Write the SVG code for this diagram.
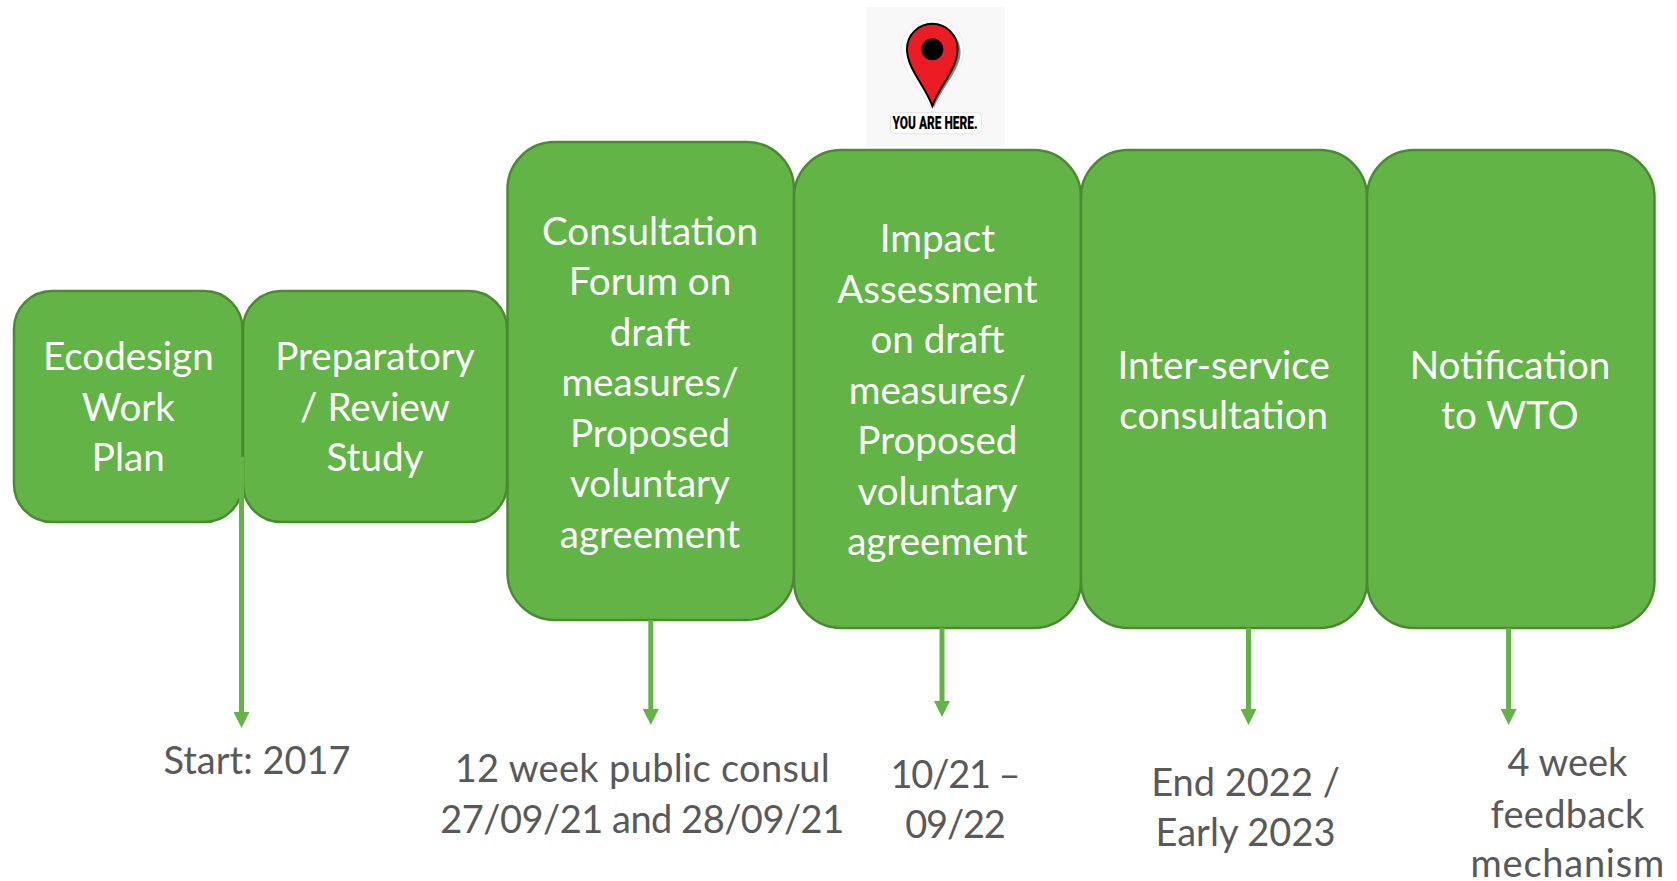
<svg xmlns="http://www.w3.org/2000/svg" width="1677" height="881" viewBox="0 0 1677 881">
<style>
.box{fill:#63B447;stroke:#4B8A30;stroke-width:2.5}
.t{font-family:Lato,"Open Sans",sans-serif;font-size:38.6px;fill:#fff;text-anchor:middle}
.l{font-family:Lato,"Open Sans",sans-serif;font-size:38px;fill:#595959;text-anchor:middle}
.c{fill:none;stroke:#63B447;stroke-width:5}
</style>
<defs>
<marker id="ah" markerUnits="userSpaceOnUse" markerWidth="16" markerHeight="16" refX="0" refY="8" orient="auto"><path d="M0,0L16,8L0,16Z" fill="#63B447"/></marker>
</defs>
<rect width="1677" height="881" fill="#fff"/>
<g id="you-are-here">
<rect x="866" y="7" width="139" height="139" fill="#F8F8F8"/>
<path d="M932.3,113C925,92 901,72 901,50A31.3,31.3 0 0 1 963.6,50C963.6,72 940,92 932.3,113Z" fill="#fff" stroke="#ececec" stroke-width="1"/>
<path d="M934,108C927,87 908,70 908,52A26.3,26.3 0 0 1 960.6,52C960.6,70 942,87 934,108Z" fill="#888"/>
<path d="M932.3,106C925,85 907,69 907,49A25.3,25.3 0 0 1 957.6,49C957.6,69 940,85 932.3,106Z" fill="#ED1C24" stroke="#000" stroke-width="2"/>
<circle cx="932.3" cy="49.3" r="11" fill="#000"/>
<rect x="890.5" y="112.7" width="91" height="21" rx="4" fill="#fff" stroke="#e6e6e6"/>
<text x="935" y="129.3" font-family="Roboto,sans-serif" font-weight="900" font-size="18" fill="#000" text-anchor="middle" textLength="85" lengthAdjust="spacingAndGlyphs">YOU ARE HERE.</text>
</g>
<g id="node-ecodesign"><rect class="box" x="14" y="291" width="228.5" height="231" rx="38"/>
<text class="t"><tspan x="128.3" y="370">Ecodesign</tspan><tspan x="128.3" y="420.5">Work</tspan><tspan x="128.3" y="471">Plan</tspan></text></g>
<g id="node-preparatory"><rect class="box" x="243" y="291" width="264" height="231" rx="38"/>
<text class="t"><tspan x="375" y="370">Preparatory</tspan><tspan x="375" y="420.5">/ Review</tspan><tspan x="375" y="471">Study</tspan></text></g>
<g id="node-consultation"><rect class="box" x="507.5" y="142" width="286.5" height="478" rx="47"/>
<text class="t"><tspan x="650" y="244.5">Consultation</tspan><tspan x="650" y="295">Forum on</tspan><tspan x="650" y="345.5">draft</tspan><tspan x="650" y="396">measures/</tspan><tspan x="650" y="446.5">Proposed</tspan><tspan x="650" y="497">voluntary</tspan><tspan x="650" y="547.5">agreement</tspan></text></g>
<g id="node-impact"><rect class="box" x="794" y="150" width="287" height="478" rx="47"/>
<text class="t"><tspan x="937.4" y="252">Impact</tspan><tspan x="937.4" y="302.5">Assessment</tspan><tspan x="937.4" y="353">on draft</tspan><tspan x="937.4" y="403.5">measures/</tspan><tspan x="937.4" y="454">Proposed</tspan><tspan x="937.4" y="504.5">voluntary</tspan><tspan x="937.4" y="555">agreement</tspan></text></g>
<g id="node-interservice"><rect class="box" x="1081" y="150" width="286" height="478" rx="47"/>
<text class="t"><tspan x="1223.7" y="378.5">Inter-service</tspan><tspan x="1223.7" y="429">consultation</tspan></text></g>
<g id="node-wto"><rect class="box" x="1367" y="150" width="287.5" height="478" rx="47"/>
<text class="t"><tspan x="1510" y="378.5">Notification</tspan><tspan x="1510" y="429">to WTO</tspan></text></g>
<g id="connectors">
<path class="c" d="M241.5,456.7V712" marker-end="url(#ah)"/>
<path class="c" d="M650.8,620V709" marker-end="url(#ah)"/>
<path class="c" d="M942,628V701" marker-end="url(#ah)"/>
<path class="c" d="M1248.5,628V709" marker-end="url(#ah)"/>
<path class="c" d="M1508.6,628V709" marker-end="url(#ah)"/>
</g>
<g id="labels">
<text class="l" x="257" y="774.3">Start: 2017</text>
<text class="l"><tspan x="642.2" y="782" textLength="375">12 week public consul</tspan></text>
<text class="l"><tspan x="642.2" y="832.5" textLength="404">27/09/21 and 28/09/21</tspan></text>
<text class="l"><tspan x="955.5" y="787.5" textLength="130">10/21 –</tspan></text>
<text class="l"><tspan x="955.5" y="838" textLength="100.5">09/22</tspan></text>
<text class="l"><tspan x="1245.5" y="796">End 2022 /</tspan><tspan x="1245.5" y="845.5">Early 2023</tspan></text>
<text class="l"><tspan x="1567.4" y="776">4 week</tspan></text>
<text class="l"><tspan x="1567.4" y="827.5" textLength="154">feedback</tspan></text>
<text class="l"><tspan x="1567.4" y="877" textLength="193.6">mechanism</tspan></text>
</g>
</svg>
